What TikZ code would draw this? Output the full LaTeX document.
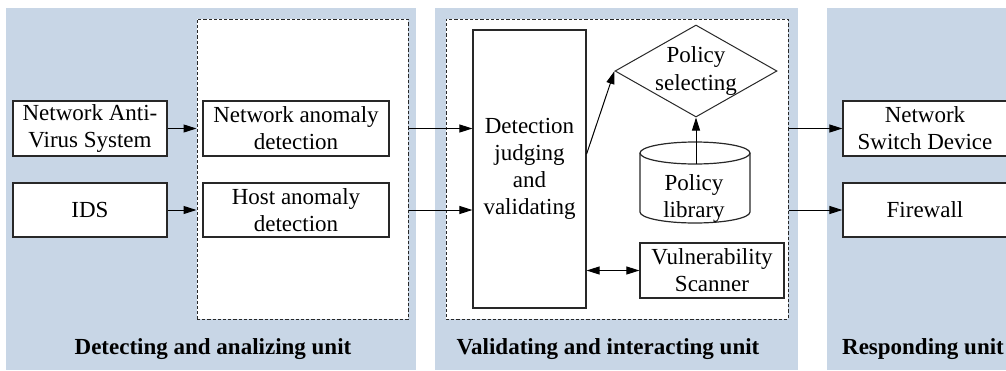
\documentclass[tikz,border=0pt]{standalone}
\usepackage{fontspec}
\setmainfont{Liberation Serif}
\usetikzlibrary{arrows.meta,shapes.geometric,calc}
\definecolor{panelblue}{RGB}{200,214,230}
\definecolor{edge}{RGB}{40,40,40}
\begin{document}
\begin{tikzpicture}[x=0.5pt,y=-0.5pt,
  font=\fontsize{11.5pt}{13.5pt}\selectfont,
  panel/.style={fill=panelblue,draw=none},
  box/.style={draw=edge,line width=0.6pt,fill=white,rectangle,inner sep=0pt,align=center},
  dbox/.style={draw=edge,line width=0.5pt,dash pattern=on 1.6pt off 1pt,fill=white,rectangle,inner sep=0pt},
  arr/.style={line width=0.5pt,-{Triangle[length=6.5pt,width=4pt]}},
  darr/.style={line width=0.5pt,{Triangle[length=6.5pt,width=4pt]}-{Triangle[length=6.5pt,width=4pt]}},
  unitlabel/.style={font=\fontsize{11.5pt}{13.5pt}\selectfont\bfseries,inner sep=0pt}
]
\clip (0,0) rectangle (1006,370);
\useasboundingbox (0,0) rectangle (1006,370);
% panels
\fill[panel] (6,8) rectangle (416,370);
\fill[panel] (435,8) rectangle (798,370);
\fill[panel] (827,8) rectangle (1006,370);
% dashed boxes
\node[dbox,minimum width=105.5pt,minimum height=150pt] (d1) at (302.5,169) {};
\node[dbox,minimum width=171pt,minimum height=150pt] (d2) at (617,169) {};
% unit 1
\node[box,minimum width=77pt,minimum height=27.5pt] (nav) at (90,128.5) {Network Anti-\\Virus System};
\node[box,minimum width=77pt,minimum height=27pt] (ids) at (90,210) {IDS};
\node[box,minimum width=93pt,minimum height=27.5pt] (na) at (296,128.5) {Network anomaly\\detection};
\node[box,minimum width=93pt,minimum height=27pt] (ha) at (296,210) {Host anomaly\\detection};
% unit 2
\node[box,minimum width=56.5pt,minimum height=139pt] (det) at (529.5,169) {Detection\\judging\\and\\validating};
\node[diamond,draw=edge,line width=0.5pt,fill=white,inner sep=0pt,shape aspect=1.76,minimum width=81pt,minimum height=46pt,
  label={[align=center,inner sep=0pt]center:Policy\\selecting}] (sel) at (696,71) {};
% cylinder
\node[minimum width=55pt,minimum height=40.5pt,inner sep=0pt] (lib) at (695,182.5) {};
\draw[draw=edge,line width=0.6pt,fill=white]
  (640,153) -- (640,212) arc[start angle=180,end angle=0,x radius=55,y radius=11]
  -- (750,153) arc[start angle=0,end angle=-180,x radius=55,y radius=11] -- cycle;
\draw[draw=edge,line width=0.6pt] (640,153) arc[start angle=180,end angle=0,x radius=55,y radius=11];
\node[align=center,inner sep=0pt] at (694,198) {Policy\\library};
\coordinate (libtop) at (696,164);
\node[box,minimum width=72pt,minimum height=27.5pt] (vul) at (712,270.5) {Vulnerability\\Scanner};
% unit 3
\node[box,minimum width=82pt,minimum height=27.5pt] (nsd) at (925,128.5) {Network\\Switch Device};
\node[box,minimum width=82pt,minimum height=27pt] (fw) at (925,210) {Firewall};
% labels
\node[unitlabel] (l1) at (213,349) {Detecting and analizing unit};
\node[unitlabel] (l2) at (608,349) {Validating and interacting unit};
\node[unitlabel] (l3) at (923,349) {Responding unit};
% connectors
\draw[arr] (nav.east) -- (nav.east -| d1.west);
\draw[arr] (ids.east) -- (ids.east -| d1.west);
\draw[arr] (d1.east |- na.east) -- (det.west |- na.east);
\draw[arr] (d1.east |- ha.east) -- (det.west |- ha.east);
\draw[arr] ($(det.east)+(0,-15)$) -- (sel.west);
\draw[arr] (libtop) -- (sel.south);
\draw[darr] (det.east |- vul.west) -- (vul.west);
\draw[arr] (d2.east |- nsd.west) -- (nsd.west);
\draw[arr] (d2.east |- fw.west) -- (fw.west);
\end{tikzpicture}
\end{document}
